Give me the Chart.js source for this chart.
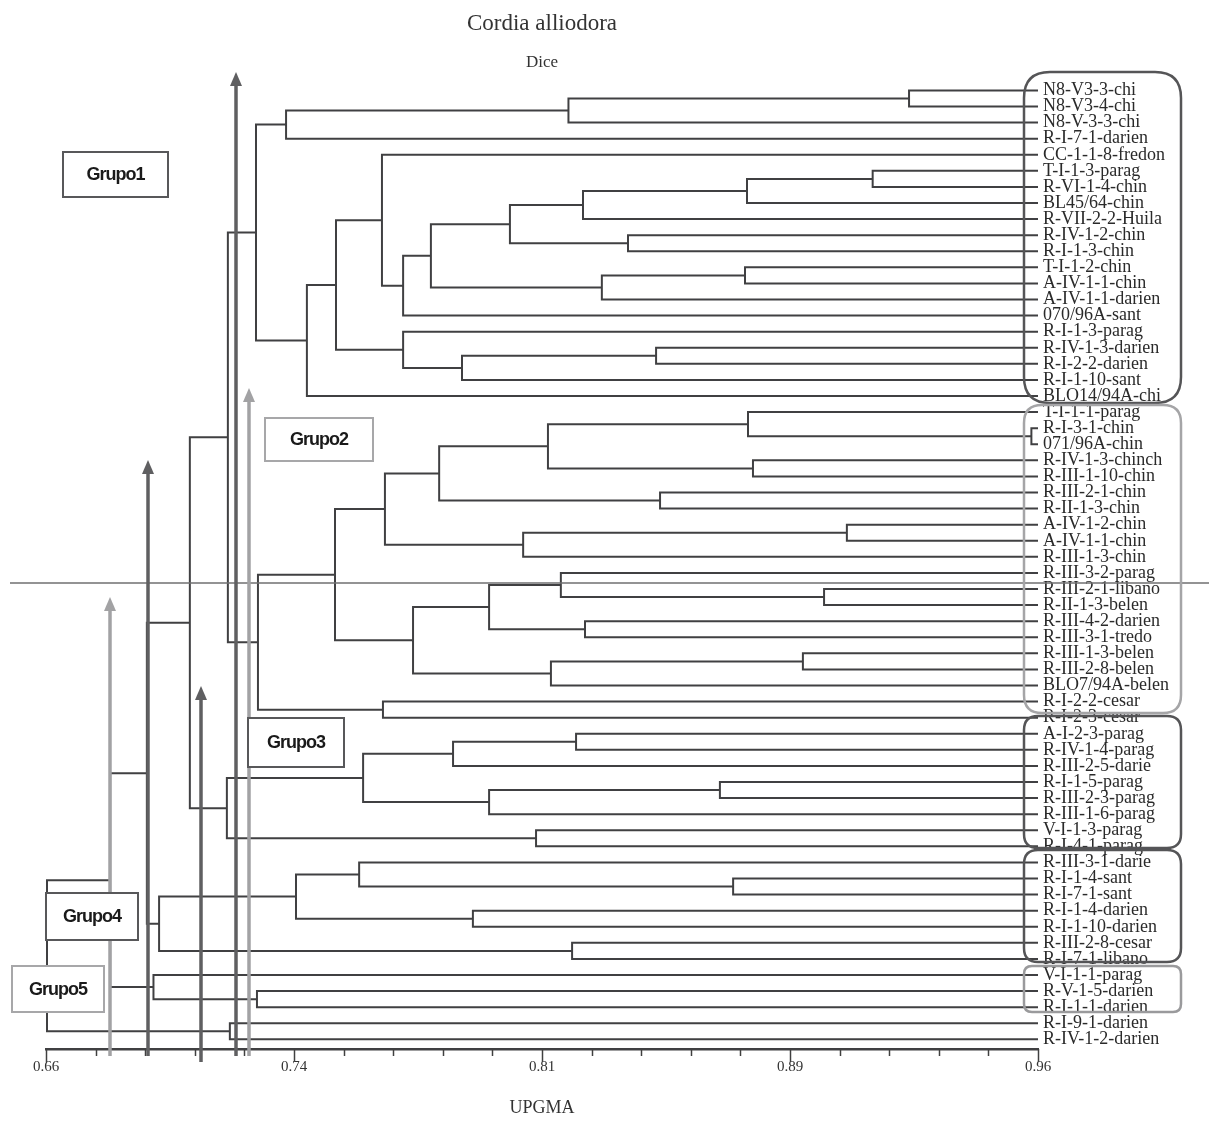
<!DOCTYPE html>
<html>
<head>
<meta charset="utf-8">
<title>Cordia alliodora - Dice</title>
<script src="https://cdn.jsdelivr.net/npm/chart.js@4.4.1/dist/chart.umd.min.js"></script>
<style>
  html, body { margin: 0; padding: 0; background: #fff; }
  #wrap { width: 1209px; height: 1127px; }
</style>
</head>
<body>
<div id="wrap"><canvas id="chart" width="1209" height="1127"></canvas></div>
<script>
// leaves, top to bottom
const leafLabels = [
  "N8-V3-3-chi", "N8-V3-4-chi", "N8-V-3-3-chi", "R-I-7-1-darien", "CC-1-1-8-fredon",
  "T-I-1-3-parag", "R-VI-1-4-chin", "BL45/64-chin", "R-VII-2-2-Huila", "R-IV-1-2-chin",
  "R-I-1-3-chin", "T-I-1-2-chin", "A-IV-1-1-chin", "A-IV-1-1-darien", "070/96A-sant",
  "R-I-1-3-parag", "R-IV-1-3-darien", "R-I-2-2-darien", "R-I-1-10-sant", "BLO14/94A-chi",
  "T-I-1-1-parag", "R-I-3-1-chin", "071/96A-chin", "R-IV-1-3-chinch", "R-III-1-10-chin",
  "R-III-2-1-chin", "R-II-1-3-chin", "A-IV-1-2-chin", "A-IV-1-1-chin", "R-III-1-3-chin",
  "R-III-3-2-parag", "R-III-2-1-libano", "R-II-1-3-belen", "R-III-4-2-darien", "R-III-3-1-tredo",
  "R-III-1-3-belen", "R-III-2-8-belen", "BLO7/94A-belen", "R-I-2-2-cesar", "R-I-2-3-cesar",
  "A-I-2-3-parag", "R-IV-1-4-parag", "R-III-2-5-darie", "R-I-1-5-parag", "R-III-2-3-parag",
  "R-III-1-6-parag", "V-I-1-3-parag", "R-I-4-1-parag", "R-III-3-1-darie", "R-I-1-4-sant",
  "R-I-7-1-sant", "R-I-1-4-darien", "R-I-1-10-darien", "R-III-2-8-cesar", "R-I-7-1-libano",
  "V-I-1-1-parag", "R-V-1-5-darien", "R-I-1-1-darien", "R-I-9-1-darien", "R-IV-1-2-darien"
];

// UPGMA merges: ids 0-59 are leaves, merge k creates id 60+k
const mergeLeft = [
  0, 60, 61, 5, 63, 64, 9, 65, 11, 68, 67, 70, 4, 16, 73, 15, 72, 76, 62,
  21, 20, 23, 80, 25, 82, 27, 85, 84, 31, 30, 33, 89, 35, 92, 91, 87, 38, 95, 78,
  40, 99, 43, 101, 100, 46, 103, 98,
  49, 48, 51, 108, 53, 110, 106,
  56, 55, 113, 58, 116
];
const mergeRight = [
  1, 2, 3, 6, 7, 8, 10, 66, 12, 13, 69, 14, 71, 17, 18, 74, 75, 19, 77,
  22, 79, 24, 81, 26, 83, 28, 29, 86, 32, 88, 34, 90, 36, 37, 93, 94, 39, 96, 97,
  41, 42, 44, 45, 102, 47, 104, 105,
  50, 107, 52, 109, 54, 111, 112,
  57, 114, 115, 59, 117
];
const mergeHeight = [
  0.921, 0.818, 0.7326, 0.910, 0.872, 0.8224, 0.836, 0.8003, 0.8714, 0.8281, 0.7764, 0.768, 0.7616, 0.8445, 0.7858, 0.768, 0.7477, 0.7389, 0.7235,
  0.958, 0.8723, 0.8738, 0.8118, 0.8457, 0.7789, 0.9022, 0.8043, 0.7625, 0.8953, 0.8157, 0.823, 0.794, 0.8889, 0.8127, 0.771, 0.7474, 0.7619, 0.7241, 0.715,
  0.8203, 0.7831, 0.8638, 0.794, 0.7559, 0.8082, 0.7147, 0.7035,
  0.8678, 0.7547, 0.7891, 0.7356, 0.8191, 0.6942, 0.6905,
  0.7238, 0.6925, 0.6794, 0.7156, 0.6603
];

const tickValues = [0.66, 0.735, 0.81, 0.885, 0.96];
const tickLabels = ["0.66", "0.74", "0.81", "0.89", "0.96"];

// annotations drawn over the tree (pixels)
const groupTags = [
  {text: "Grupo1", x: 63, y: 152, w: 105, h: 45, color: "#58585a"},
  {text: "Grupo2", x: 265, y: 418, w: 108, h: 43, color: "#a7a7a9"},
  {text: "Grupo3", x: 248, y: 718, w: 96, h: 49, color: "#58585a"},
  {text: "Grupo4", x: 46, y: 893, w: 92, h: 47, color: "#58585a"},
  {text: "Grupo5", x: 12, y: 966, w: 92, h: 46, color: "#a7a7a9"}
];
const arrowMarks = [
  {x: 236, tip: 72, foot: 1056, color: "#5f5f61"},
  {x: 249, tip: 388, foot: 1056, color: "#a2a2a4"},
  {x: 148, tip: 460, foot: 1056, color: "#5f5f61"},
  {x: 110, tip: 597, foot: 1056, color: "#a2a2a4"},
  {x: 201, tip: 686, foot: 1062, color: "#5f5f61"}
];
const labelFrames = [
  {top: 72, bottom: 403, color: "#555557", r: 26},
  {top: 405, bottom: 713, color: "#a5a5a7", r: 18},
  {top: 716, bottom: 848, color: "#555557", r: 14},
  {top: 850, bottom: 962, color: "#555557", r: 14},
  {top: 966, bottom: 1012, color: "#9a9a9c", r: 8}
];

// build the tree as one broken line
const nodeY = leafLabels.map((_, i) => i);
const nodeH = leafLabels.map(() => 0.96);
const treePoints = [];
mergeHeight.forEach((h, k) => {
  const a = mergeLeft[k], b = mergeRight[k];
  treePoints.push(
    {x: nodeH[a], y: nodeY[a]}, {x: h, y: nodeY[a]},
    {x: h, y: nodeY[b]}, {x: nodeH[b], y: nodeY[b]},
    {x: null, y: null}
  );
  nodeY.push((nodeY[a] + nodeY[b]) / 2);
  nodeH.push(h);
});

function roundBox(ctx, x, y, w, h, r) {
  ctx.beginPath();
  ctx.moveTo(x + r, y);
  ctx.lineTo(x + w - r, y);
  ctx.quadraticCurveTo(x + w, y, x + w, y + r);
  ctx.lineTo(x + w, y + h - r);
  ctx.quadraticCurveTo(x + w, y + h, x + w - r, y + h);
  ctx.lineTo(x + r, y + h);
  ctx.quadraticCurveTo(x, y + h, x, y + h - r);
  ctx.lineTo(x, y + r);
  ctx.quadraticCurveTo(x, y, x + r, y);
  ctx.closePath();
}

const decor = {
  id: "decor",
  afterDatasetsDraw(chart) {
    const ctx = chart.ctx;
    const xs = chart.scales.x;
    const base = chart.chartArea.bottom;
    ctx.save();
    // axis tick marks, 4 minor between majors
    ctx.strokeStyle = "#404040";
    ctx.lineWidth = 1.5;
    for (let i = 0; i < tickValues.length; i++) {
      const v0 = tickValues[i];
      const steps = i < tickValues.length - 1 ? 5 : 1;
      for (let s = 0; s < steps; s++) {
        const v = v0 + s * (i < tickValues.length - 1 ? (tickValues[i + 1] - v0) / 5 : 0);
        const px = Math.round(xs.getPixelForValue(v)) + 0.5;
        ctx.beginPath();
        ctx.moveTo(px, base);
        ctx.lineTo(px, base + (s === 0 ? 13 : 7));
        ctx.stroke();
      }
    }
    // horizontal cut line
    ctx.strokeStyle = "#6f6f71";
    ctx.lineWidth = 1.5;
    ctx.beginPath();
    ctx.moveTo(10, 583);
    ctx.lineTo(1209, 583);
    ctx.stroke();
    // arrows
    arrowMarks.forEach(a => {
      ctx.strokeStyle = a.color;
      ctx.fillStyle = a.color;
      ctx.lineWidth = 3.5;
      ctx.beginPath();
      ctx.moveTo(a.x, a.foot);
      ctx.lineTo(a.x, a.tip + 12);
      ctx.stroke();
      ctx.beginPath();
      ctx.moveTo(a.x, a.tip);
      ctx.lineTo(a.x - 6, a.tip + 14);
      ctx.lineTo(a.x + 6, a.tip + 14);
      ctx.closePath();
      ctx.fill();
    });
    // group tags
    groupTags.forEach(t => {
      ctx.fillStyle = "#fff";
      ctx.fillRect(t.x, t.y, t.w, t.h);
      ctx.strokeStyle = t.color;
      ctx.lineWidth = 2;
      ctx.strokeRect(t.x, t.y, t.w, t.h);
      ctx.fillStyle = "#1a1a1a";
      ctx.font = "bold 18px 'Liberation Sans', Arial, sans-serif";
      ctx.letterSpacing = "-1px";
      ctx.textAlign = "center";
      ctx.textBaseline = "middle";
      ctx.fillText(t.text, t.x + t.w / 2, t.y + t.h / 2 + 1);
    });
    ctx.restore();
  },
  afterDraw(chart) {
    const ctx = chart.ctx;
    ctx.save();
    labelFrames.forEach(f => {
      ctx.strokeStyle = f.color;
      ctx.lineWidth = 2.5;
      roundBox(ctx, 1024, f.top, 157, f.bottom - f.top, f.r);
      ctx.stroke();
    });
    ctx.restore();
  }
};

new Chart(document.getElementById("chart"), {
  type: "scatter",
  data: {
    datasets: [{
      data: treePoints,
      showLine: true,
      spanGaps: false,
      borderColor: "#404042",
      borderWidth: 2,
      pointRadius: 0,
      pointHoverRadius: 0
    }]
  },
  options: {
    responsive: false,
    animation: false,
    devicePixelRatio: 1,
    layout: { padding: { left: 46, right: 0, top: 0, bottom: 0 } },
    plugins: {
      legend: { display: false },
      tooltip: { enabled: false },
      title: {
        display: true,
        text: "Cordia alliodora",
        fullSize: false,
        color: "#333",
        font: { family: "'Liberation Serif', serif", size: 23, weight: "normal" },
        padding: { top: 10, bottom: 3 }
      },
      subtitle: {
        display: true,
        text: "Dice",
        fullSize: false,
        color: "#333",
        font: { family: "'Liberation Serif', serif", size: 17, weight: "normal" },
        padding: { top: 12, bottom: 9.4 }
      }
    },
    scales: {
      x: {
        type: "linear",
        position: "bottom",
        min: 0.66,
        max: 0.96,
        afterBuildTicks: s => { s.ticks = tickValues.map(v => ({ value: v })); },
        afterFit: s => { s.height = 78; },
        grid: { display: false, drawTicks: false },
        border: { display: true, color: "#404042", width: 2.5 },
        ticks: {
          autoSkip: false,
          maxRotation: 0,
          padding: 9,
          color: "#333",
          font: { family: "'Liberation Serif', serif", size: 15 },
          callback: v => tickLabels[tickValues.indexOf(v)]
        },
        title: {
          display: true,
          text: "UPGMA",
          color: "#333",
          font: { family: "'Liberation Serif', serif", size: 18 },
          padding: { top: 0, bottom: 8 }
        }
      },
      y: {
        type: "linear",
        position: "right",
        reverse: true,
        min: -0.5,
        max: 59.6,
        afterBuildTicks: s => { s.ticks = leafLabels.map((_, i) => ({ value: i })); },
        afterFit: s => { s.width = 171; },
        grid: { display: false, drawTicks: false },
        border: { display: false },
        ticks: {
          autoSkip: false,
          padding: 5,
          color: "#2a2a2a",
          font: { family: "'Liberation Serif', serif", size: 18 },
          callback: v => leafLabels[v]
        }
      }
    }
  },
  plugins: [decor]
});
</script>
</body>
</html>
